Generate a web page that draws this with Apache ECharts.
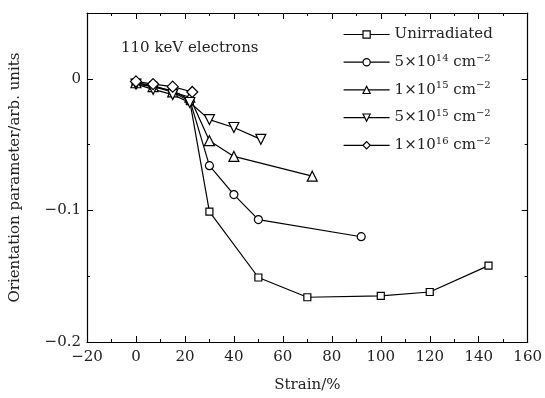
<!DOCTYPE html>
<html><head><meta charset="utf-8">
<script src="https://cdn.jsdelivr.net/npm/echarts@6/dist/echarts.min.js"></script>
<style>html,body{margin:0;padding:0;background:#fff}#c{width:545px;height:398px}</style>
</head><body><div id="c"></div>
<script>
var seriesNames = ['Unirradiated', '5×10{s|14} cm{s|−2}', '1×10{s|15} cm{s|−2}', '5×10{s|15} cm{s|−2}', '1×10{s|16} cm{s|−2}'];
var unirradiated = [[0,-0.003],[7,-0.005],[15,-0.010],[22,-0.017],[30,-0.101],[50,-0.151],[70,-0.166],[100,-0.165],[120,-0.162],[144,-0.142]];
var f5e14 = [[0,-0.004],[7,-0.006],[15,-0.009],[22,-0.016],[30,-0.066],[40,-0.088],[50,-0.107],[92,-0.120]];
var f1e15 = [[0,-0.003],[7,-0.006],[15,-0.010],[22,-0.014],[30,-0.047],[40,-0.059],[72,-0.074]];
var f5e15 = [[0,-0.004],[7,-0.008],[15,-0.012],[22,-0.018],[30,-0.031],[40,-0.037],[51,-0.046]];
var f1e16 = [[0,-0.002],[7,-0.004],[15,-0.006],[23,-0.010]];
var xTicks = [-20,0,20,40,60,80,100,120,140,160];
var yTicks = [-0.2,-0.1,0];

var font = 'DejaVu Serif';
var chart = echarts.init(document.getElementById('c'));
function mk(name, data, symbol, size, rot) {
  return {type:'line', name:name, data:data, symbol:symbol, symbolSize:size, symbolRotate:rot||0,
    showAllSymbol:true,
    lineStyle:{color:'#000', width:1.2}, itemStyle:{color:'#fff', borderColor:'#000', borderWidth:1.2},
    emphasis:{disabled:true}, animation:false, z: 3};
}
var axisCommon = {
  axisLine:{onZero:false, lineStyle:{color:'#000', width:1.2}},
  axisTick:{inside:true, length:6, lineStyle:{color:'#000'}},
  minorTick:{show:true, splitNumber:2, length:3, lineStyle:{color:'#000'}},
  splitLine:{show:false}
};
chart.setOption({
  animation:false,
  grid:{left:86, right:14, top:13, bottom:56},
  title:{text:'110 keV electrons', left:116, top:36, textStyle:{fontFamily:font, fontSize:15, fontWeight:'normal', color:'#222'}},
  legend:{
    orient:'vertical', left:338, top:22, itemGap:11.2, itemWidth:46, itemHeight:9,
    data:seriesNames,
    lineStyle:{width:1.2},
    itemStyle:{borderWidth:1.2},
    textStyle:{fontFamily:font, fontSize:15, color:'#222',
      rich:{s:{fontFamily:font, fontSize:10, verticalAlign:'top', padding:[0,0,8,0], color:'#222'}}},
    formatter:function(n){return n;}
  },
  xAxis:[
    Object.assign({type:'value', min:-20, max:160, interval:20, position:'bottom',
      name:'Strain/%', nameLocation:'middle', nameGap:36,
      nameTextStyle:{fontFamily:font, fontSize:15, color:'#222'},
      axisLabel:{fontFamily:font, fontSize:15, color:'#222', margin:8,
        formatter:function(v){return xTicks.indexOf(v)>=0 ? String(v).replace('-','−') : '';}}}, axisCommon),
    Object.assign({type:'value', min:-20, max:160, interval:20, position:'top', axisLabel:{show:false}}, axisCommon)
  ],
  yAxis:[
    Object.assign({type:'value', min:-0.2, max:0.05, interval:0.1, position:'left',
      name:'Orientation parameter/arb. units', nameLocation:'middle', nameGap:64,
      nameTextStyle:{fontFamily:font, fontSize:15, color:'#222'},
      axisLabel:{fontFamily:font, fontSize:15, color:'#222', margin:6, showMaxLabel:false,
        formatter:function(v){var r=Math.round(v*10)/10; if(Math.abs(v-r)>1e-6) return ''; return r===0?'0':String(r).replace('-','−');}}}, axisCommon),
    Object.assign({type:'value', min:-0.2, max:0.05, interval:0.1, position:'right', axisLabel:{show:false}}, axisCommon)
  ],
  series:[
    mk(seriesNames[0], unirradiated, 'rect', 7),
    mk(seriesNames[1], f5e14, 'circle', 8),
    mk(seriesNames[2], f1e15, 'triangle', 10),
    mk(seriesNames[3], f5e15, 'triangle', 10, 180),
    mk(seriesNames[4], f1e16, 'diamond', 11)
  ]
});
</script></body></html>
